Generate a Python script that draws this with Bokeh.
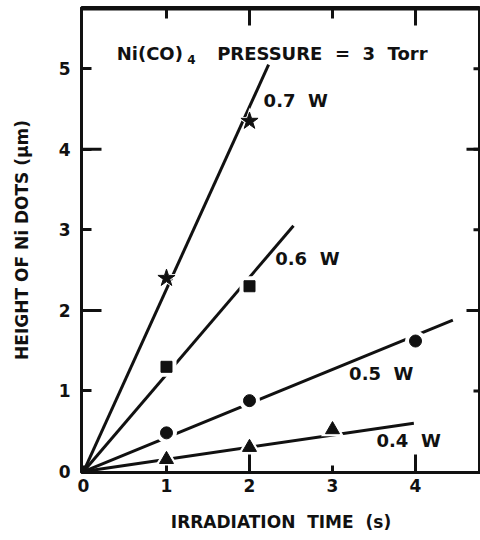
from bokeh.plotting import figure
from bokeh.models import Label, FixedTicker, Range1d
from bokeh.embed import file_html
from bokeh.resources import INLINE

# ---- data ----
powers = ["0.7 W", "0.6 W", "0.5 W", "0.4 W"]
markers = ["star", "square", "circle", "triangle"]
marker_sizes = [18, 11, 12, 14]

t_07 = [1, 2]
h_07 = [2.4, 4.35]
t_06 = [1, 2]
h_06 = [1.3, 2.3]
t_05 = [1, 2, 4]
h_05 = [0.48, 0.88, 1.62]
t_04 = [1, 2, 3]
h_04 = [0.15, 0.30, 0.52]

# fitted lines start at origin and end here
fit_start_x = [0, 0, 0, 0]
fit_start_y = [0, 0, 0, 0]
fit_end_x = [2.23, 2.53, 4.45, 3.98]
fit_end_y = [5.05, 3.05, 1.88, 0.60]

x_ticks = [0, 1, 2, 3, 4]
y_ticks = [0, 1, 2, 3, 4, 5]
top_ticks = [1, 2, 3, 4]
right_ticks = [1, 2, 3, 4, 5]
long_ticks = [2, 4]

X_START, X_END = -0.024, 4.783
Y_START, Y_END = -0.012, 5.76

W, H = 480, 540
B_LEFT, B_RIGHT, B_TOP, B_BOTTOM = 81, 0, 7, 68
PX_X = (W - B_LEFT - B_RIGHT) / (X_END - X_START)   # pixels per x unit
PX_Y = (H - B_TOP - B_BOTTOM) / (Y_END - Y_START)   # pixels per y unit

FONT = "DejaVu Sans"
INK = "#111111"
NB = "\u00a0"

p = figure(width=W, height=H, output_backend="svg", toolbar_location=None,
           x_range=Range1d(X_START, X_END), y_range=Range1d(Y_START, Y_END),
           min_border_left=B_LEFT, min_border_right=B_RIGHT, min_border_top=B_TOP,
           min_border_bottom=B_BOTTOM)
p.xgrid.visible = False
p.ygrid.visible = False
p.outline_line_color = INK
p.outline_line_width = 3

def style_axis(ax, ticks, tick_in):
    ax.ticker = FixedTicker(ticks=ticks)
    ax.major_tick_in = tick_in
    ax.major_tick_out = 0
    ax.minor_tick_line_color = None
    ax.major_tick_line_width = 3
    ax.major_tick_line_color = INK
    ax.axis_line_width = 3
    ax.axis_line_color = INK
    ax.major_label_text_font = FONT
    ax.major_label_text_font_style = "bold"
    ax.major_label_text_color = INK
    ax.major_label_text_font_size = "17px"
    ax.axis_label_text_font = FONT
    ax.axis_label_text_font_style = "bold"
    ax.axis_label_text_color = INK
    ax.axis_label_text_font_size = "17px"

xa = p.xaxis[0]
style_axis(xa, x_ticks, 7)
xa.major_label_standoff = 6
xa.axis_label = "IRRADIATION" + NB + NB + "TIME" + NB + NB + "(s)"
xa.axis_label_standoff = 17

ya = p.yaxis[0]
style_axis(ya, y_ticks, 10)
ya.major_label_standoff = 11
ya.major_label_orientation = "horizontal"
ya.axis_label = "HEIGHT OF Ni DOTS (\u03bcm)"
ya.axis_label_standoff = 24

# extra tick marks along the frame edges, as short segments reaching inward
def vticks(xs, y_edge, length_px, direction):
    y1 = y_edge + direction * length_px / PX_Y
    p.segment(x0=xs, y0=[y_edge] * len(xs), x1=xs, y1=[y1] * len(xs),
              line_color=INK, line_width=3)

def hticks(ys, x_edge, length_px, direction):
    x1 = x_edge + direction * length_px / PX_X
    p.segment(x0=[x_edge] * len(ys), y0=ys, x1=[x1] * len(ys), y1=ys,
              line_color=INK, line_width=3)

vticks(long_ticks, Y_START, 18, +1)     # bottom, long
hticks(long_ticks, X_START, 20, +1)     # left, long
vticks(top_ticks, Y_END, 11, -1)        # top
vticks(long_ticks, Y_END, 18, -1)       # top, long
hticks(right_ticks, X_END, 7, -1)       # right
hticks(long_ticks, X_END, 14, -1)       # right, long

# top edge of the frame (drawn just inside so it is not clipped away)
top_line_y = Y_END - 1.5 / PX_Y
p.segment(x0=[X_START], y0=[top_line_y], x1=[X_END], y1=[top_line_y],
          line_color=INK, line_width=3)

# fitted lines
p.segment(x0=fit_start_x, y0=fit_start_y, x1=fit_end_x, y1=fit_end_y,
          line_color=INK, line_width=3)

series = [(t_07, h_07), (t_06, h_06), (t_05, h_05), (t_04, h_04)]
for (tx, hy), m, s in zip(series, markers, marker_sizes):
    p.scatter(tx, hy, marker=m, size=s + 9, fill_color="white", line_color=None)
for (tx, hy), m, s in zip(series, markers, marker_sizes):
    p.scatter(tx, hy, marker=m, size=s, fill_color=INK, line_color=INK)

# annotations
def lab(x, y, text, size="18px", baseline="middle"):
    p.add_layout(Label(x=x, y=y, text=text, text_font=FONT, text_font_style="bold",
                       text_font_size=size, text_color=INK,
                       text_baseline=baseline, text_align="left"))

lab(0.40, 5.19, "Ni(CO)", "18px", "alphabetic")
lab(1.25, 5.12, "4", "12px", "alphabetic")
lab(1.61, 5.19, "PRESSURE" + NB * 2 + "=" + NB * 2 + "3" + NB * 2 + "Torr", "18px", "alphabetic")

power_label_x = [2.17, 2.31, 3.20, 3.53]
power_label_y = [4.60, 2.64, 1.22, 0.385]
for x, y, t in zip(power_label_x, power_label_y, powers):
    lab(x, y, t.replace(" ", NB * 2), "18px")

open("out.html", "w").write(file_html(p, INLINE))
